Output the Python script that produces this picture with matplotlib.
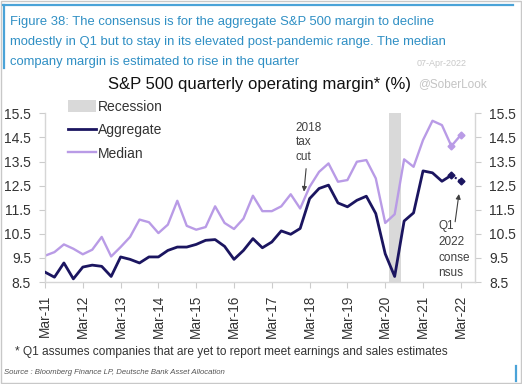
import matplotlib
matplotlib.use("Agg")
import matplotlib.pyplot as plt
from matplotlib.patches import Patch, Rectangle
from matplotlib.lines import Line2D

plt.rcParams['font.family'] = ['Liberation Sans', 'DejaVu Sans']

# ---- data (quarterly, Mar-11 .. Mar-22) ----
aggregate = [8.91, 8.70, 9.29, 8.63, 9.12, 9.20, 9.15, 8.73, 9.54, 9.44,
             9.29, 9.54, 9.54, 9.81, 9.95, 9.95, 10.06, 10.23, 10.26, 9.98,
             9.44, 9.81, 10.30, 9.92, 10.16, 10.62, 10.48, 10.72, 11.96, 12.38,
             12.52, 11.78, 11.62, 11.89, 12.06, 11.34, 9.67, 8.73, 11.03, 11.37,
             13.11, 13.03, 12.68, 12.93, 12.68]
median = [9.59, 9.74, 10.06, 9.88, 9.65, 9.84, 10.37, 9.56, 9.95, 10.37,
          11.09, 10.98, 10.53, 10.88, 11.87, 10.83, 10.67, 10.78, 11.64, 10.95,
          10.70, 11.13, 12.08, 11.44, 11.44, 11.64, 12.14, 11.55, 12.45, 13.07,
          13.42, 12.66, 12.73, 13.49, 13.56, 12.80, 10.95, 11.31, 13.59, 13.28,
          14.39, 15.19, 15.01, 14.14, 14.60]
tick_labels = ['Mar-11', 'Mar-12', 'Mar-13', 'Mar-14', 'Mar-15', 'Mar-16',
               'Mar-17', 'Mar-18', 'Mar-19', 'Mar-20', 'Mar-21', 'Mar-22']
y_ticks = [8.5, 9.5, 10.5, 11.5, 12.5, 13.5, 14.5, 15.5]
recession = (36.4, 37.7)   # quarter index span (2020)
taxcut_point = (27.4, 12.25)
q1_point = (43.8, 12.15)

x = list(range(len(aggregate)))
AGG = '#1b1560'
MED = '#b99be6'
TXT = '#333333'

fig = plt.figure(figsize=(5.22, 3.84), dpi=100)
W, H = 522, 384
def fx(px): return px / W
def fy(py): return 1 - py / H

ax = fig.add_axes([fx(45), fy(282), fx(475) - fx(45), fy(113.3) - fy(282)])

ax.axvspan(recession[0], recession[1], color='#d9d9d9', lw=0, zorder=0)
n = len(x)
ax.plot(x, median, color=MED, lw=1.7, zorder=2)
ax.plot(x[n-2:], median[n-2:], ls='none', marker='D', ms=3.5, color=MED, zorder=3)
ax.plot(x[:n-1], aggregate[:n-1], color=AGG, lw=2, zorder=4)
ax.plot(x[n-2:], aggregate[n-2:], color=AGG, lw=1.5, ls=(0, (1, 1)), zorder=4)
ax.plot(x[n-2:], aggregate[n-2:], ls='none', marker='D', ms=3.5, color=AGG, zorder=5)

ax.set_xlim(0, 45.5)
ax.set_ylim(8.5, 15.5)
ax.set_xticks(x[::4])
ax.set_xticklabels(tick_labels, rotation=90, fontsize=9.8, color=TXT)
ax.set_yticks(y_ticks)
ax.set_yticklabels([f'{v:.1f}' for v in y_ticks], fontsize=10, color=TXT)
ax.tick_params(axis='y', which='both', left=True, right=True, labelleft=True,
               labelright=True, length=4, color='#cccccc', pad=6)
ax.tick_params(axis='x', length=4, color='#cccccc', pad=5)
for s in ['left', 'right', 'bottom']:
    ax.spines[s].set_color('#d6d6d6')
    ax.spines[s].set_linewidth(1)
ax.spines['top'].set_visible(False)

# annotations
ax.annotate('2018\ntax\ncut', xy=taxcut_point, xytext=(taxcut_point[0] - 0.9, 15.15),
            fontsize=8.5, color='#404040', ha='left', va='top', linespacing=1.3,
            arrowprops=dict(arrowstyle='-|>', color='#404040', lw=0.8,
                            mutation_scale=7, shrinkA=2, shrinkB=0))
ax.text(41.6, 8.62, 'Q1\n2022\nconse\nnsus', fontsize=8.5, color='#404040',
        ha='left', va='bottom', linespacing=1.4)
ax.annotate('', xy=q1_point, xytext=(43.4, 11.0),
            arrowprops=dict(arrowstyle='-|>', color='#404040', lw=0.8,
                            mutation_scale=7, shrinkA=0, shrinkB=0))

# legend
handles = [Patch(facecolor='#d9d9d9', edgecolor='none', label='Recession'),
           Line2D([], [], color=AGG, lw=2, label='Aggregate'),
           Line2D([], [], color=MED, lw=1.7, label='Median')]
fig.legend(handles=handles, loc='upper left', bbox_to_anchor=(fx(68), fy(100)),
           frameon=False, fontsize=10, handlelength=2.0, handleheight=1.0,
           handletextpad=0.15, labelspacing=0.68, borderpad=0, borderaxespad=0,
           labelcolor=TXT)

# titles / header
fig.text(fx(259), fy(84), 'S&P 500 quarterly operating margin* (%)', fontsize=12,
         ha='center', va='center', color='#111111')
fig.text(fx(418), fy(84), '@SoberLook', fontsize=8.5, ha='left', va='center',
         color='#c4c4c4')
HEAD = '#2f8fc4'
header_lines = ['Figure 38: The consensus is for the aggregate S&P 500 margin to decline',
                'modestly in Q1 but to stay in its elevated post-pandemic range. The median',
                'company margin is estimated to rise in the quarter']
for i, line in enumerate(header_lines):
    fig.text(fx(10), fy(22.5 + 19.5 * i), line, fontsize=9.4, ha='left', va='center',
             color=HEAD)
fig.text(fx(417), fy(64), '07-Apr-2022', fontsize=6.5, ha='left', va='center',
         color='#c8c8c8')

fig.text(fx(15), fy(352), '* Q1 assumes companies that are yet to report meet earnings and sales estimates',
         fontsize=8.6, ha='left', va='center', color='#333333')
fig.text(fx(4), fy(372), 'Source : Bloomberg Finance LP, Deutsche Bank Asset Allocation',
         fontsize=5.6, ha='left', va='center', color='#555555', style='italic')

# frame lines
fig.add_artist(Line2D([fx(3), fx(513)], [fy(5), fy(5)], color='#4aa3d8', lw=1.6))
fig.add_artist(Line2D([fx(4), fx(4)], [fy(5), fy(68)], color='#4aa3d8', lw=1.6))
fig.add_artist(Line2D([fx(516), fx(516)], [fy(366), fy(381)], color='#4aa3d8', lw=1.6))
fig.add_artist(Rectangle((0.001, 0.002), 0.997, 0.996, transform=fig.transFigure,
                         fill=False, edgecolor='#c8c8c8', lw=1))

fig.savefig('out.png', dpi=100)
